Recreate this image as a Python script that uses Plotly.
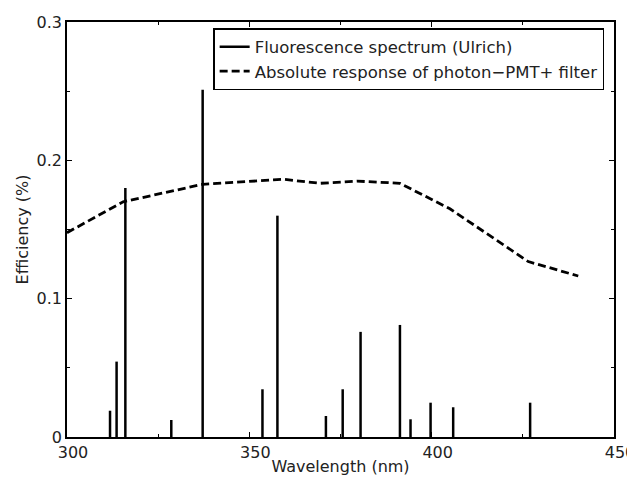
import plotly.graph_objects as go

# Fluorescence spectrum lines (wavelength nm, efficiency %)
line_wl = [311.8, 313.6, 316.0, 328.6, 337.2, 353.6, 357.7, 371.0, 375.6, 380.5,
           391.3, 394.2, 399.7, 405.9, 427.0]
line_eff = [0.019, 0.0545, 0.180, 0.0123, 0.251, 0.0345, 0.160, 0.0152, 0.0345, 0.076,
            0.081, 0.0128, 0.0248, 0.0215, 0.0248]

# Absolute response of photon-PMT + filter
resp_wl = [300, 315.4, 337.2, 359.3, 369.4, 379.5, 391.3, 405.0, 426.5, 440.2]
resp_eff = [0.1477, 0.170, 0.1827, 0.1863, 0.1834, 0.185, 0.1834, 0.165, 0.1268, 0.1164]

x_ticks = [300, 350, 400, 450]
y_ticks = [0, 0.1, 0.2, 0.3]
y_tick_text = ["0", "0.1", "0.2", "0.3"]

seg_x, seg_y = [], []
for w, e in zip(line_wl, line_eff):
    seg_x += [w, w, None]
    seg_y += [0, e, None]

fig = go.Figure()
fig.add_trace(go.Scatter(x=seg_x, y=seg_y, mode="lines",
                         line=dict(color="black", width=2.5),
                         name="Fluorescence spectrum (Ulrich)"))
fig.add_trace(go.Scatter(x=resp_wl, y=resp_eff, mode="lines",
                         line=dict(color="black", width=2.8, dash="8px,4px"),
                         name="Absolute response of photon\u2212PMT+ filter"))

font = "DejaVu Sans, sans-serif"
axis_common = dict(showline=True, linecolor="black", linewidth=1.5, mirror="ticks",
                   ticks="inside", ticklen=5, tickcolor="black", showgrid=False,
                   zeroline=False, automargin=False,
                   tickfont=dict(size=16, color="#222", family=font))

fig.update_layout(
    width=627, height=469,
    margin=dict(l=59, r=21, t=14, b=40),
    plot_bgcolor="white", paper_bgcolor="white",
    font=dict(family=font, color="#222"),
    showlegend=True,
    legend=dict(x=0.982, y=0.9855, xanchor="right", yanchor="top",
                bordercolor="black", borderwidth=1.5, bgcolor="white",
                font=dict(size=16.5, family=font), tracegroupgap=0,
                itemwidth=30),
    xaxis=dict(range=[300, 450], tickvals=x_ticks,
               title=dict(text="Wavelength (nm)", font=dict(size=16), standoff=0),
               minor=dict(dtick=25, ticks="inside", ticklen=3, tickcolor="black"),
               ticklabelstandoff=0, ticklabelshift=6, ticklabeloverflow="allow",
               **axis_common),
    yaxis=dict(range=[0, 0.3], tickvals=y_ticks, ticktext=y_tick_text,
               title=dict(text="Efficiency (%)", font=dict(size=16), standoff=4),
               minor=dict(dtick=0.05, ticks="inside", ticklen=3, tickcolor="black"),
               **axis_common),
)

fig.write_html("out.html")
